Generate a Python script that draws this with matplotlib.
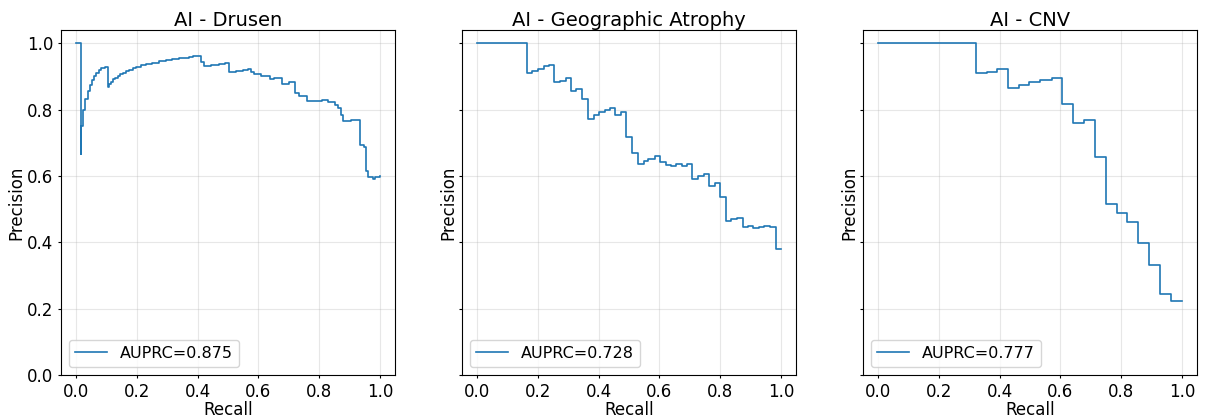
import numpy as np
import matplotlib.pyplot as plt

titles = ["AI - Drusen", "AI - Geographic Atrophy", "AI - CNV"]
auprc = [0.875, 0.728, 0.777]

# precision-recall steps (recall ascending)
drusen_recall = [0.0, 0.015, 0.017, 0.022, 0.030, 0.039, 0.046, 0.052, 0.059, 0.066,
                 0.074, 0.083, 0.094, 0.104, 0.109, 0.114, 0.120, 0.128, 0.137, 0.145,
                 0.153, 0.164, 0.175, 0.186, 0.197, 0.213, 0.230, 0.250, 0.273, 0.295,
                 0.317, 0.339, 0.355, 0.371, 0.385, 0.399, 0.410, 0.421, 0.445, 0.470,
                 0.490, 0.503, 0.525, 0.550, 0.565, 0.574, 0.585, 0.607, 0.639, 0.650,
                 0.677, 0.700, 0.721, 0.732, 0.759, 0.792, 0.810, 0.828, 0.852, 0.861,
                 0.872, 0.880, 0.905, 0.934, 0.949, 0.953, 0.962, 0.978, 0.985, 1.0]
drusen_precision = [1.0, 0.667, 0.750, 0.800, 0.832, 0.857, 0.875, 0.888, 0.900, 0.911,
                    0.919, 0.925, 0.929, 0.868, 0.876, 0.884, 0.891, 0.896, 0.901, 0.906,
                    0.911, 0.916, 0.921, 0.925, 0.929, 0.934, 0.938, 0.942, 0.946, 0.949,
                    0.952, 0.955, 0.957, 0.959, 0.961, 0.963, 0.944, 0.931, 0.934, 0.937,
                    0.941, 0.914, 0.917, 0.920, 0.923, 0.915, 0.906, 0.901, 0.891, 0.896,
                    0.878, 0.884, 0.850, 0.840, 0.827, 0.825, 0.830, 0.822, 0.815, 0.805,
                    0.785, 0.765, 0.768, 0.695, 0.688, 0.614, 0.597, 0.592, 0.596, 0.599]

ga_recall = [0.0, 0.164, 0.182, 0.202, 0.220, 0.237, 0.254, 0.273, 0.293, 0.310,
             0.327, 0.346, 0.364, 0.384, 0.402, 0.420, 0.438, 0.455, 0.473, 0.491,
             0.509, 0.528, 0.548, 0.564, 0.584, 0.602, 0.621, 0.637, 0.654, 0.673,
             0.691, 0.709, 0.727, 0.746, 0.763, 0.782, 0.800, 0.818, 0.836, 0.856,
             0.875, 0.891, 0.909, 0.927, 0.945, 0.965, 0.983, 1.0]
ga_precision = [1.0, 0.911, 0.918, 0.924, 0.931, 0.935, 0.883, 0.887, 0.895, 0.855,
                0.863, 0.832, 0.772, 0.785, 0.793, 0.800, 0.806, 0.785, 0.793, 0.717,
                0.671, 0.637, 0.646, 0.652, 0.659, 0.641, 0.634, 0.629, 0.636, 0.631,
                0.637, 0.592, 0.601, 0.607, 0.569, 0.578, 0.536, 0.465, 0.470, 0.475,
                0.448, 0.449, 0.445, 0.448, 0.450, 0.446, 0.381, 0.381]

cnv_recall = [0.0, 0.322, 0.357, 0.391, 0.429, 0.463, 0.498, 0.534, 0.573, 0.607,
              0.643, 0.679, 0.714, 0.749, 0.785, 0.821, 0.856, 0.893, 0.929, 0.965, 1.0]
cnv_precision = [1.0, 0.909, 0.915, 0.924, 0.866, 0.875, 0.884, 0.888, 0.896, 0.818,
                 0.760, 0.770, 0.656, 0.516, 0.490, 0.461, 0.398, 0.333, 0.245, 0.225, 0.225]

curves = [(drusen_recall, drusen_precision),
          (ga_recall, ga_precision),
          (cnv_recall, cnv_precision)]

fig, axes = plt.subplots(1, 3, figsize=(12.08, 4.19), dpi=100, sharey=True)
fig.subplots_adjust(left=0.0505, right=0.9909, bottom=0.1043, top=0.9284, wspace=0.2)

for ax, (r, p), title, score in zip(axes, curves, titles, auprc):
    ax.plot(r, p, drawstyle="steps-post", color="#1f77b4", lw=1.2,
            label=f"AUPRC={score:.3f}")
    ax.set_title(title, fontsize=14, pad=3)
    ax.set_xlabel("Recall", fontsize=12, labelpad=0)
    ax.set_ylabel("Precision", fontsize=12, labelpad=1)
    ax.set_xticks(np.arange(0, 1.01, 0.2))
    ax.set_yticks(np.arange(0, 1.01, 0.2))
    ax.tick_params(labelsize=12, length=2.5, pad=3)
    ax.grid(alpha=0.3)
    ax.legend(loc="lower left", fontsize=11.5)

axes[0].set_ylim(0, 1.04)

fig.savefig("out.png", dpi=100)
